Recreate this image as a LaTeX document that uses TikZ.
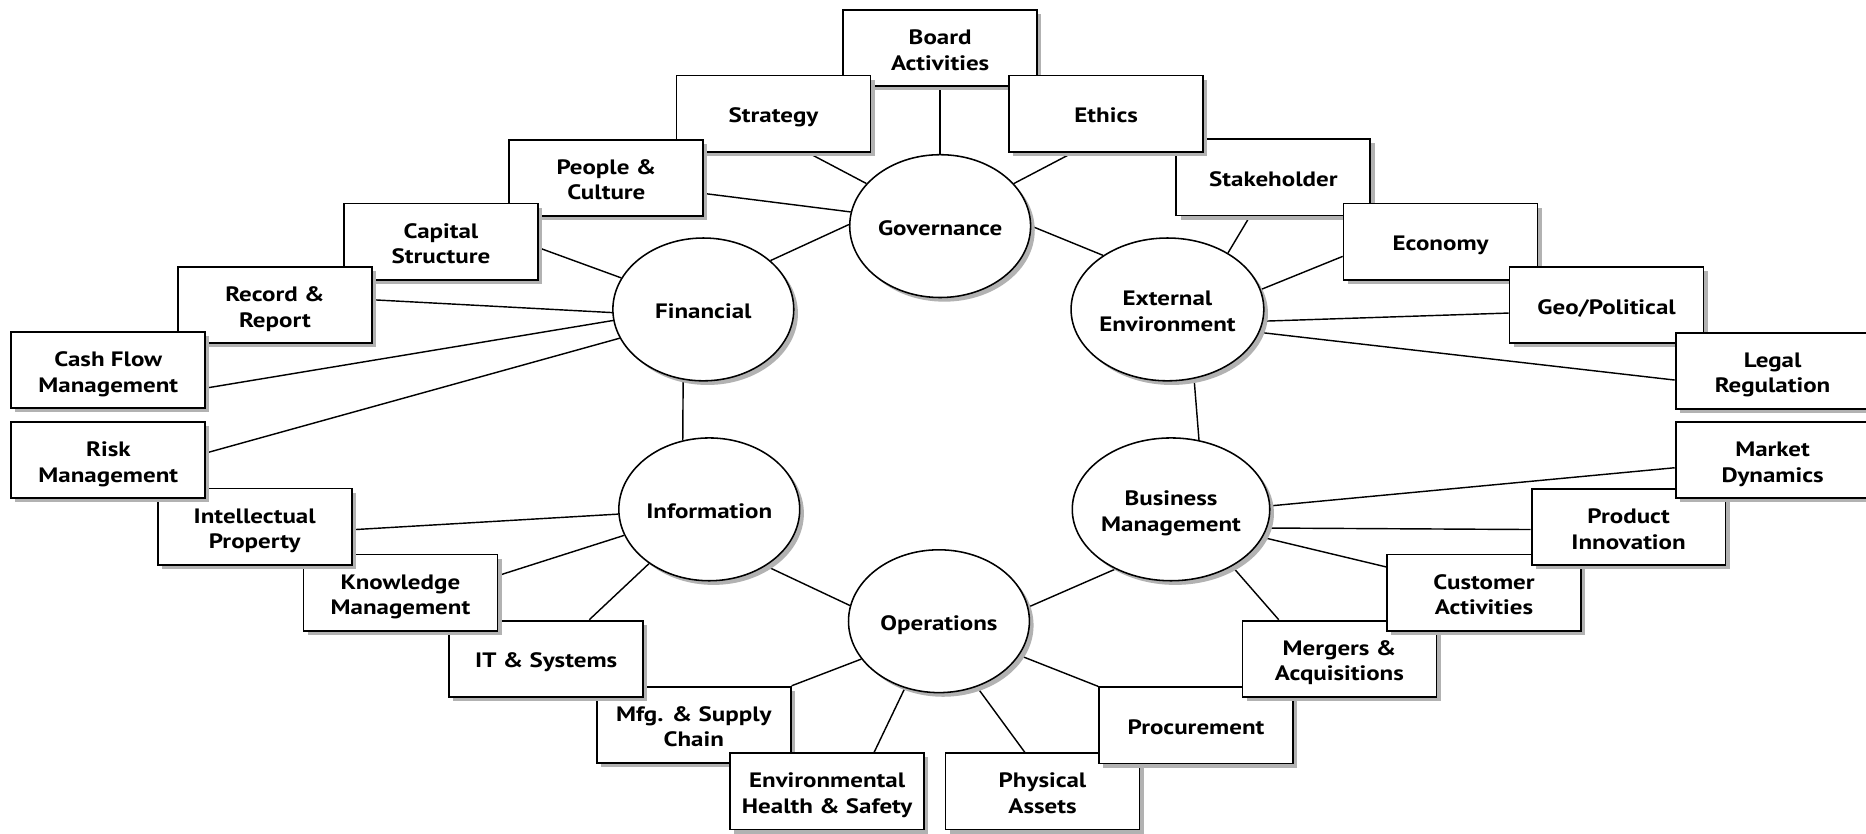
\documentclass[tikz,border=0pt]{standalone}
\usepackage{fontspec}
\setmainfont{PT Sans}[FakeStretch=1.2]
\usetikzlibrary{shapes.geometric,shadows,backgrounds,calc}
\newcommand\diagfont{\bfseries\fontsize{17.5}{21.5}\selectfont}
% label text: centred lines, set a little low in their frame
\newcommand\lbl[1]{\raisebox{-3.5pt}[\height][\depth]{\begin{tabular}{@{}c@{}}#1\end{tabular}}}
\begin{document}
\begin{tikzpicture}[x=1pt,y=-1pt,
  softshadow/.style={drop shadow={shadow xshift=3.5pt,shadow yshift=-3.5pt,fill=black!30,opacity=1}},
  box/.style={draw,rectangle,line width=1.5pt,fill=white,minimum width=163pt,minimum height=64pt,
    inner sep=0pt,font=\diagfont,softshadow},
  hub/.style={draw,ellipse,line width=1.3pt,fill=white,minimum width=152pt,minimum height=120pt,
    inner sep=0pt,font=\diagfont,softshadow},
  link/.style={line width=1.2pt}]
\useasboundingbox (0,0) rectangle (1568,700);

% outer boxes, stacked so that overlapping ones sit on top
\node[box] (board)   at (790,40.5)   {\lbl{Board\\Activities}};
\node[box] (strat)   at (650,95.5)   {\lbl{Strategy}};
\node[box] (people)  at (509.5,149.5){\lbl{People \&\\Culture}};
\node[box] (capital) at (370.5,203)  {\lbl{Capital\\Structure}};
\node[box] (record)  at (231,256.5)  {\lbl{Record \&\\Report}};
\node[box] (cash)    at (91,311)     {\lbl{Cash Flow\\Management}};

\node[box] (stake)   at (1070,149)   {\lbl{Stakeholder}};
\node[box] (ethics)  at (929.5,95.5) {\lbl{Ethics}};
\node[box] (economy) at (1210.5,203) {\lbl{Economy}};
\node[box] (geo)     at (1350,256.5) {\lbl{Geo/Political}};
\node[box] (legal)   at (1489.5,311.5){\lbl{Legal\\Regulation}};

\node[box] (phys)    at (876,665)    {\lbl{Physical\\Assets}};
\node[box] (procure) at (1005,609.5) {\lbl{Procurement}};
\node[box] (mergers) at (1125.5,553.5){\lbl{Mergers \&\\Acquisitions}};
\node[box] (customer)at (1247,498)   {\lbl{Customer\\Activities}};
\node[box] (product) at (1368.5,443) {\lbl{Product\\Innovation}};
\node[box] (market)  at (1489.5,386.5){\lbl{Market\\Dynamics}};

\node[box] (mfg)     at (583,609)    {\lbl{Mfg. \& Supply\\Chain}};
\node[box] (env)     at (695,665)    {\lbl{Environmental\\Health \& Safety}};
\node[box] (it)      at (459,553.5)  {\lbl{IT \& Systems}};
\node[box] (know)    at (336.5,498)  {\lbl{Knowledge\\Management}};
\node[box] (intel)   at (214,442.5)  {\lbl{Intellectual\\Property}};
\node[box] (risk)    at (91,386.5)   {\lbl{Risk\\Management}};

% the six hubs
\node[hub] (gov)  at (790,190) {\lbl{Governance}};
\node[hub] (fin)  at (591,260) {\lbl{Financial}};
\node[hub] (ext)  at (981,260) {\lbl{External\\Environment}};
\node[hub] (info) at (596,428) {\lbl{Information}};
\node[hub] (bus)  at (984,428) {\lbl{Business\\Management}};
\node[hub] (ops)  at (789,522) {\lbl{Operations}};

\begin{pgfonlayer}{background}
\fill[white] (0,0) rectangle (1568,700);
% ring between hubs
\draw[link] (gov.179) -- (fin.36);
\draw[link] (gov.0) -- (ext.140);
\draw[link] (fin.254) -- (info.111);
\draw[link] (ext.-69) -- (bus.68);
\draw[link] (info.-45) -- (ops.170);
\draw[link] (bus.227) -- (ops.9);
% Governance
\draw[link] (gov.90) -- (board.south);
\draw[link] (gov.150) -- ($(strat.south west)!0.675!(strat.south east)$);
\draw[link] (gov.171) -- ($(people.north east)!0.7!(people.south east)$);
\draw[link] (gov.30) -- ($(ethics.south west)!0.33!(ethics.south east)$);
% Financial
\draw[link] (fin.159) -- ($(capital.north east)!0.58!(capital.south east)$);
\draw[link] (fin.182) -- ($(record.north east)!0.43!(record.south east)$);
\draw[link] (fin.187) -- ($(cash.north east)!0.73!(cash.south east)$);
\draw[link] (fin.199) -- ($(risk.north east)!0.41!(risk.south east)$);
% External Environment
\draw[link] (ext.43) -- ($(stake.south west)!0.38!(stake.south east)$);
\draw[link] (ext.12) -- ($(economy.north west)!0.69!(economy.south west)$);
\draw[link] (ext.-7.6) -- ($(geo.north west)!0.6!(geo.south west)$);
\draw[link] (ext.-14) -- ($(legal.north west)!0.62!(legal.south west)$);
% Information
\draw[link] (info.183) -- ($(intel.north east)!0.54!(intel.south east)$);
\draw[link] (info.197.5) -- ($(know.north east)!0.28!(know.south east)$);
\draw[link] (info.222.7) -- ($(it.north west)!0.72!(it.north east)$);
% Business Management
\draw[link] (bus.2) -- ($(market.north west)!0.6!(market.south west)$);
\draw[link] (bus.-11.3) -- ($(product.north west)!0.53!(product.south west)$);
\draw[link] (bus.-17) -- ($(customer.north west)!0.17!(customer.south west)$);
\draw[link] (bus.-43.8) -- ($(mergers.north west)!0.19!(mergers.north east)$);
% Operations
\draw[link] (ops.206.6) -- (mfg.north east);
\draw[link] (ops.243.4) -- ($(env.north west)!0.74!(env.north east)$);
\draw[link] (ops.-60.4) -- ($(phys.north west)!0.41!(phys.north east)$);
\draw[link] (ops.-23.9) -- (procure.north west);
\end{pgfonlayer}
\end{tikzpicture}
\end{document}
